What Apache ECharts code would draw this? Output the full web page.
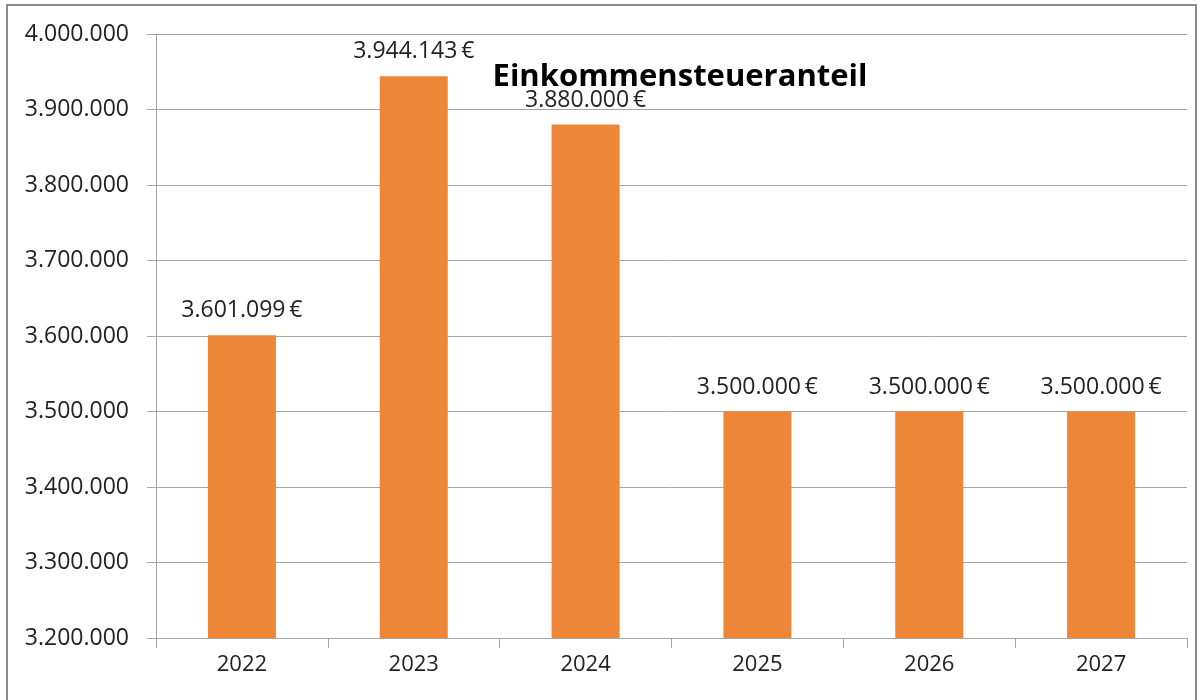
<!DOCTYPE html>
<html><head><meta charset="utf-8">
<script src="https://cdn.jsdelivr.net/npm/echarts@6/dist/echarts.min.js"></script>
<style>
html,body{margin:0;padding:0;background:#fff;}
#frame{position:absolute;left:6px;top:4px;width:1191px;height:710px;border:2px solid #8c8c8c;box-sizing:border-box;}
#chart{position:absolute;left:0;top:0;width:1203px;height:700px;}
</style></head>
<body>
<div id="frame"></div>
<div id="chart"></div>
<script>
var categories = ['2022','2023','2024','2025','2026','2027'];
var values = [3601099, 3944143, 3880000, 3500000, 3500000, 3500000];
var yTicks = {min: 3200000, max: 4000000, interval: 100000};
var titleText = 'Einkommensteueranteil';

function fmt(n){
  var s = Math.round(n).toString();
  return s.replace(/\B(?=(\d{3})+(?!\d))/g, '.');
}
var FONT = 'Open Sans, Noto Sans, sans-serif';
var chart = echarts.init(document.getElementById('chart'));
chart.setOption({
  animation: false,
  title: {
    text: titleText, left: 675, top: 57, textAlign: 'center',
    textStyle: {fontFamily: FONT, fontWeight: 'bold', fontSize: 31, color: '#000'}
  },
  grid: {left: 156, right: 16, top: 34, bottom: 62, containLabel: false},
  xAxis: {
    type: 'category', data: categories,
    axisLine: {lineStyle: {color: '#a6a6a6', width: 1}},
    axisTick: {show: true, length: 10, lineStyle: {color: '#a6a6a6'}},
    axisLabel: {fontFamily: FONT, fontSize: 22, color: '#222', margin: 16}
  },
  yAxis: {
    type: 'value', min: yTicks.min, max: yTicks.max, interval: yTicks.interval,
    axisLine: {show: true, lineStyle: {color: '#a6a6a6', width: 1}},
    axisTick: {show: true, length: 9, lineStyle: {color: '#a6a6a6'}},
    splitLine: {lineStyle: {color: '#a6a6a6', width: 1}},
    axisLabel: {fontFamily: FONT, fontSize: 23, color: '#222', margin: 27,
      formatter: function(v){ return fmt(v); }}
  },
  series: [{
    type: 'bar', barWidth: 68,
    data: values,
    itemStyle: {color: '#ed8636'},
    label: {show: true, position: 'top', distance: 13,
      fontFamily: FONT, fontSize: 23, color: '#222',
      formatter: function(p){ return fmt(p.value) + '\u2009€'; }}
  }]
});
</script>
</body></html>
